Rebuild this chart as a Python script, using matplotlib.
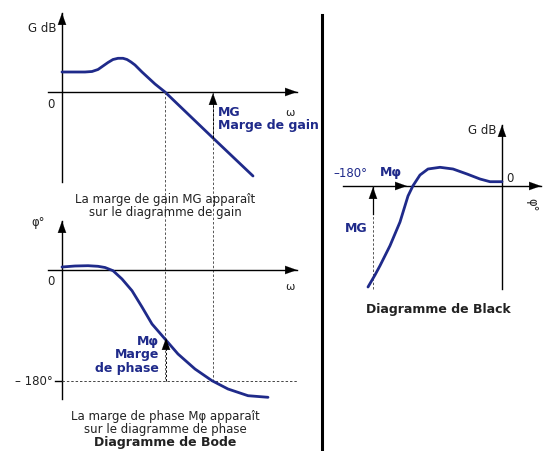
import numpy as np
import matplotlib.pyplot as plt

# Schematic drawn in pixel space of the 550x452 picture (y grows downward)
BLUE = '#1f2a8a'

# gain curve (Bode, top)
gain_x = [62, 85, 92, 98, 103, 108, 113, 118, 123, 127, 131, 135, 142, 155, 165, 213, 253]
gain_y = [73, 73, 72.5, 70.5, 67, 63.5, 60.5, 59.3, 59.3, 60.5, 63, 66, 73, 85, 93, 139, 177]

# phase curve (Bode, bottom)
phase_x = [62, 75, 88, 98, 105, 113, 122, 132, 142, 152, 165, 178, 195, 212, 228, 248, 268]
phase_y = [268, 267, 266.7, 267.3, 268.5, 271.7, 280, 291.7, 308, 325, 340, 355, 370, 381.7, 390, 396.7, 398.3]

# Black curve
black_x = [368, 375, 380, 390, 400, 408, 413, 420, 428, 440, 453, 467, 480, 490, 502]
black_y = [288, 276, 266.7, 246.7, 223, 197, 186.7, 176, 170, 168.3, 170, 175, 180, 182.7, 182.7]

fig = plt.figure(figsize=(5.5, 4.52), dpi=100)
ax = fig.add_axes([0, 0, 1, 1])
ax.set_xlim(0, 550)
ax.set_ylim(452, 0)
ax.axis('off')

def arrow(x0, y0, x1, y1, lw=1.0, ls='-', color='black'):
    ax.plot([x0, x1], [y0, y1], color=color, lw=lw, ls=ls)
    ax.annotate('', xy=(x1, y1), xytext=(x1 - (x1 - x0) * 0.001, y1 - (y1 - y0) * 0.001),
                arrowprops=dict(arrowstyle='-|>,head_width=0.25,head_length=0.7',
                                color=color, lw=0.1, shrinkA=0, shrinkB=0,
                                mutation_scale=12))

def curve(xs, ys):
    ax.plot(xs, ys, color=BLUE, lw=2.0, solid_capstyle='round', solid_joinstyle='round')

def label(x, y, s, **kw):
    kw.setdefault('fontsize', 8.5)
    kw.setdefault('color', '#222222')
    ax.text(x, y, s, **kw)

dash = (0, (2.5, 2))

# ---- Bode gain ----
arrow(62, 183, 62, 14)
arrow(48, 93, 297, 93)
curve(gain_x, gain_y)
ax.plot([165, 165], [93, 382], color='#555555', lw=0.7, ls=dash)
ax.plot([213, 213], [100, 382], color='#555555', lw=0.7, ls=dash)
arrow(213, 139, 213, 94, lw=0.7, ls=dash)
label(57, 29, 'G dB', ha='right', va='center')
label(55, 104, '0', ha='right', va='center')
label(290, 113, 'ω', ha='center', va='center', fontsize=8)
label(218, 113, 'MG', color=BLUE, fontweight='bold', va='center', fontsize=9)
label(218, 126, 'Marge de gain', color=BLUE, fontweight='bold', va='center', fontsize=9)
label(165, 200, 'La marge de gain MG apparaît', ha='center', va='center')
label(165, 213, 'sur le diagramme de gain', ha='center', va='center')

# ---- Bode phase ----
arrow(62, 400, 62, 222)
arrow(48, 271, 297, 271)
ax.plot([55, 62], [382, 382], color='black', lw=1.0)
ax.plot([62, 297], [382, 382], color='#444444', lw=0.7, ls=dash)
curve(phase_x, phase_y)
arrow(166, 382, 166, 339, lw=0.7, ls=dash)
label(45, 223, 'φ°', ha='right', va='center')
label(55, 282, '0', ha='right', va='center')
label(290, 287, 'ω', ha='center', va='center', fontsize=8)
label(53, 382, '– 180°', ha='right', va='center')
label(159, 342, 'Mφ', color=BLUE, fontweight='bold', ha='right', va='center', fontsize=9)
label(159, 355, 'Marge', color=BLUE, fontweight='bold', ha='right', va='center', fontsize=9)
label(159, 369, 'de phase', color=BLUE, fontweight='bold', ha='right', va='center', fontsize=9)
label(165, 417, 'La marge de phase Mφ apparaît', ha='center', va='center')
label(165, 430, 'sur le diagramme de phase', ha='center', va='center')
label(165, 443, 'Diagramme de Bode', ha='center', va='center', fontweight='bold', fontsize=9)

# separator
ax.plot([322, 322], [16, 452], color='black', lw=2.2)

# ---- Black diagram ----
arrow(502, 290, 502, 126)
arrow(343, 187, 541, 187)
ax.plot([373, 373], [290, 187], color='#555555', lw=0.7, ls=dash)
arrow(373, 215, 373, 188, lw=0.9)
arrow(373, 187, 407, 187, lw=0.7, ls=dash)
curve(black_x, black_y)
label(496, 131, 'G dB', ha='right', va='center')
label(506, 179, '0', ha='left', va='center')
label(532, 205, 'φ°', ha='center', va='center', rotation=-90)
label(367, 174, '–180°', ha='right', va='center', color=BLUE)
label(380, 173, 'Mφ', ha='left', va='center', color=BLUE, fontweight='bold', fontsize=9)
label(367, 229, 'MG', ha='right', va='center', color=BLUE, fontweight='bold', fontsize=9)
label(438, 310, 'Diagramme de Black', ha='center', va='center', fontweight='bold', fontsize=9)

fig.savefig('out.png', dpi=100)
